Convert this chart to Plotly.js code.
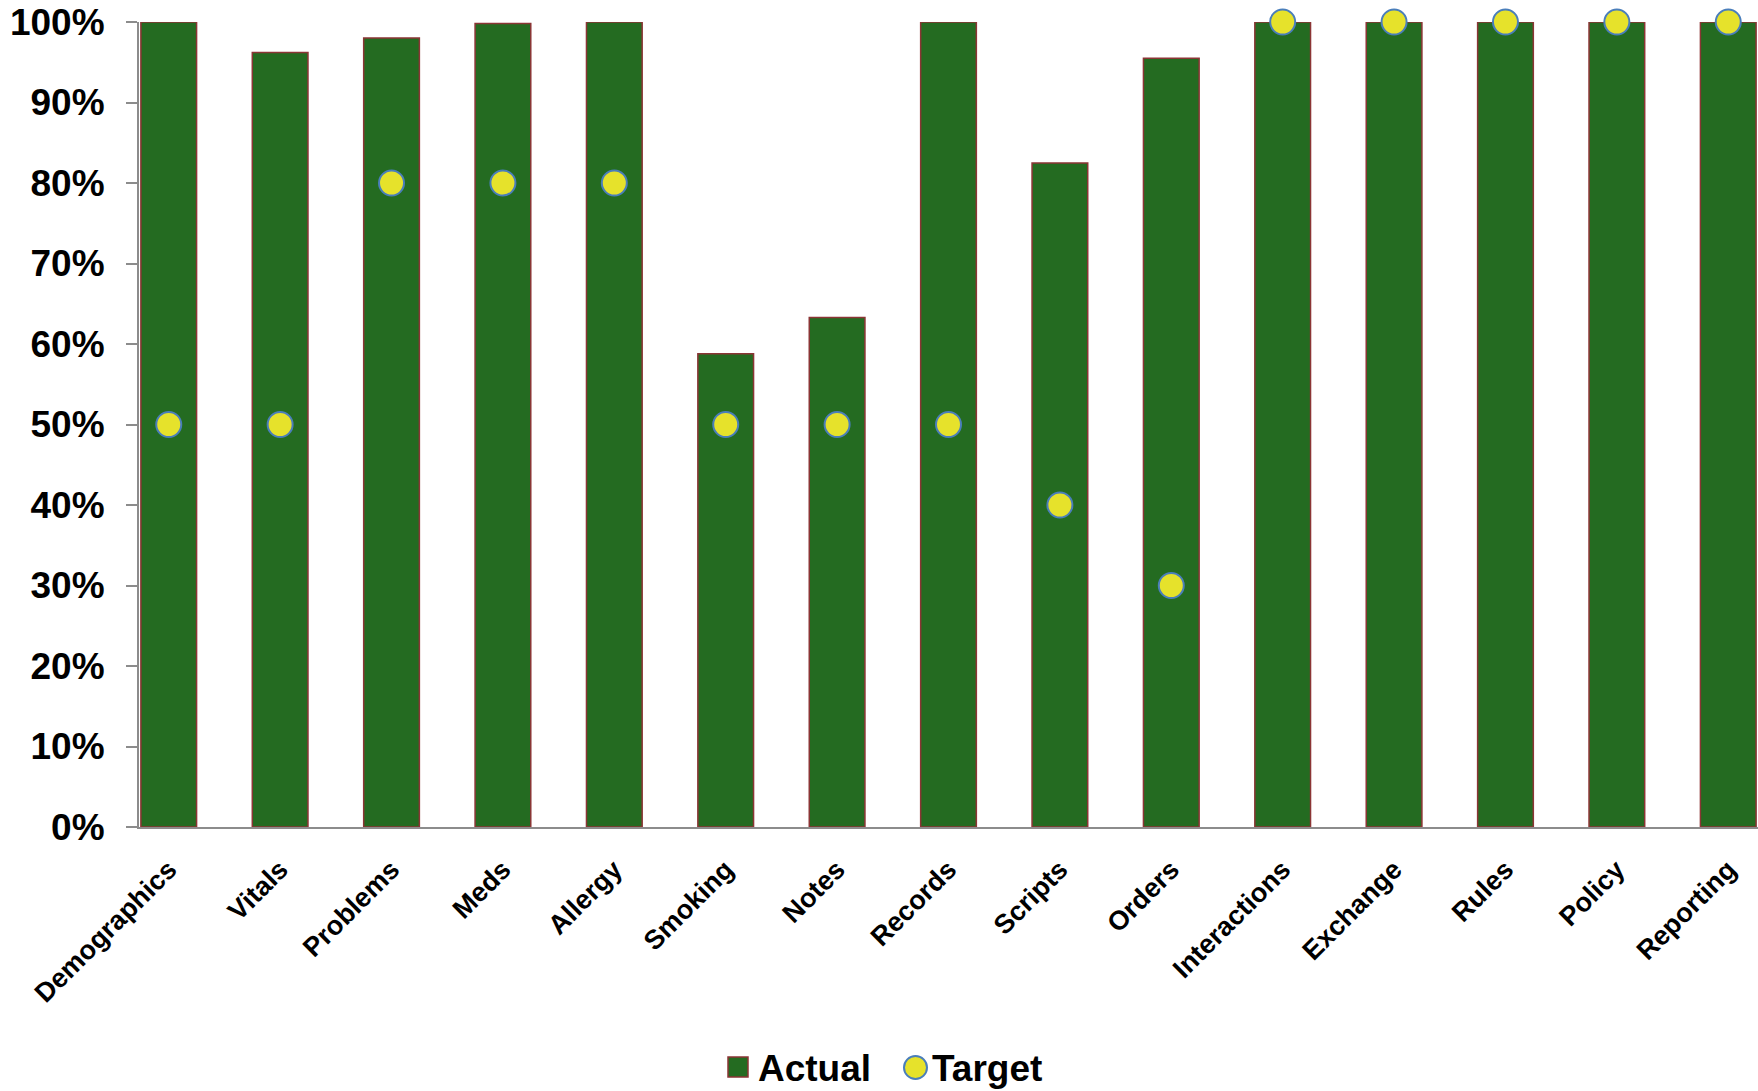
<!DOCTYPE html>
<html>
<head>
<meta charset="utf-8">
<script src="https://cdn.plot.ly/plotly-3.0.1.min.js"></script>
<style>
  html, body { margin: 0; padding: 0; background: #ffffff; }
  #chart { width: 1758px; height: 1091px; }
</style>
</head>
<body>
<div id="chart"></div>
<script>
// Measure categories
const categories = ["Demographics", "Vitals", "Problems", "Meds", "Allergy", "Smoking", "Notes",
  "Records", "Scripts", "Orders", "Interactions", "Exchange", "Rules", "Policy", "Reporting"];

// Share of criteria met (fraction of 1)
const actual = [1.00, 0.962, 0.980, 0.998, 1.00, 0.588, 0.633, 1.00, 0.825, 0.955, 1.00, 1.00, 1.00, 1.00, 1.00];

// Required threshold per measure
const target = [0.50, 0.50, 0.80, 0.80, 0.80, 0.50, 0.50, 0.50, 0.40, 0.30, 1.00, 1.00, 1.00, 1.00, 1.00];

const seriesNames = ["Actual", "Target"];

const FONT = "Liberation Sans, Arial, sans-serif";
const W = 1758, H = 1091;
const M = { l: 139, r: 0, t: 22, b: 264 };
const PW = W - M.l - M.r, PH = H - M.t - M.b;
// pixel -> paper helpers for the hand-placed legend
const px = x => (x - M.l) / PW;
const py = y => (H - M.b - y) / PH;

const GREEN = "#246b21", EDGE = "#8b3535", YELLOW = "#e6e22b", BLUE = "#4a7ebb", AXIS = "#8c8c8c";

const traces = [
  {
    type: "bar",
    name: seriesNames[0],
    x: categories,
    y: actual,
    width: 0.5,
    marker: { color: GREEN, line: { color: EDGE, width: 1.5 } },
    showlegend: false,
    hoverinfo: "x+y"
  },
  {
    type: "scatter",
    mode: "markers",
    name: seriesNames[1],
    x: categories,
    y: target,
    cliponaxis: false,
    marker: { size: 25, color: YELLOW, line: { color: BLUE, width: 2 } },
    showlegend: false,
    hoverinfo: "x+y"
  }
];

const layout = {
  width: W,
  height: H,
  margin: M,
  paper_bgcolor: "#ffffff",
  plot_bgcolor: "#ffffff",
  font: { family: FONT, color: "#000000" },
  showlegend: false,
  xaxis: {
    type: "category",
    range: [-0.267, 14.267],
    tickangle: -45,
    ticks: "",
    ticklabelstandoff: 14,
    showline: true,
    linecolor: AXIS,
    linewidth: 2,
    showgrid: false,
    zeroline: false,
    tickfont: { family: FONT, size: 27, color: "#000000", weight: "bold" }
  },
  yaxis: {
    range: [0, 1],
    dtick: 0.1,
    tick0: 0,
    tickformat: ".0%",
    ticks: "outside",
    ticklen: 11,
    tickwidth: 2,
    tickcolor: AXIS,
    ticklabelstandoff: 14,
    showline: true,
    linecolor: AXIS,
    linewidth: 2,
    showgrid: false,
    zeroline: false,
    tickfont: { family: FONT, size: 37, color: "#000000", weight: "bold" }
  },
  shapes: [
    { type: "rect", xref: "paper", yref: "paper",
      x0: px(728), x1: px(748), y0: py(1077), y1: py(1057),
      fillcolor: GREEN, line: { color: EDGE, width: 1.5 } },
    { type: "circle", xref: "paper", yref: "paper",
      x0: px(904), x1: px(927), y0: py(1079), y1: py(1056),
      fillcolor: YELLOW, line: { color: BLUE, width: 2 } }
  ],
  annotations: [
    { xref: "paper", yref: "paper", x: px(757), y: py(1068), xanchor: "left", yanchor: "middle",
      text: seriesNames[0], showarrow: false, borderpad: 0,
      font: { family: FONT, size: 37, color: "#000000", weight: "bold" } },
    { xref: "paper", yref: "paper", x: px(931), y: py(1068), xanchor: "left", yanchor: "middle",
      text: seriesNames[1], showarrow: false, borderpad: 0,
      font: { family: FONT, size: 37, color: "#000000", weight: "bold" } }
  ]
};

Plotly.newPlot("chart", traces, layout, { displayModeBar: false, staticPlot: true });
</script>
</body>
</html>
